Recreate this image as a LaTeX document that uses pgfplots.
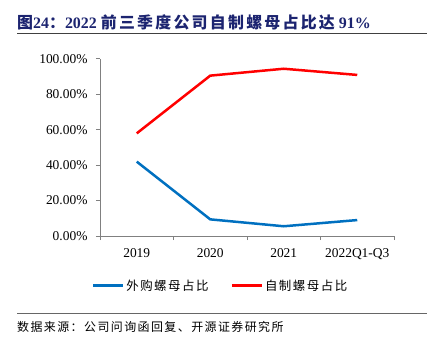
\documentclass[border=0pt]{standalone}
\usepackage{fontspec}
\setmainfont{Liberation Serif}
\newfontfamily\cjk{Noto Sans CJK SC}
\newfontfamily\cjks[LetterSpace=12]{Noto Sans CJK SC}
\newfontfamily\cjkt[LetterSpace=14]{Noto Sans CJK SC}
\usepackage{pgfplots}
\pgfplotsset{compat=1.18}
\definecolor{navy}{RGB}{28,36,112}
\definecolor{lblue}{RGB}{0,112,192}
\definecolor{axgray}{RGB}{128,128,128}
\begin{document}
\begin{tikzpicture}[x=1bp,y=1bp]
\useasboundingbox (0,0) rectangle (432,340);
% title
\node[anchor=west,text=navy,font=\fontsize{16}{17}\selectfont\bfseries,inner sep=0] at (17,318)
 {{\cjkt\bfseries 图}24{\cjkt\bfseries ：}2022 {\cjkt\bfseries 前三季度公司自制螺母占比达} 91\%};
\draw[black!75,line width=0.8bp] (17,306.5) -- (427,306.5);
% axis
\begin{axis}[
  at={(100bp,104bp)}, anchor=south west,
  scale only axis, width=294bp, height=177bp,
  xmin=-0.5, xmax=3.5, ymin=0, ymax=100,
  axis x line*=bottom, axis y line*=left,
  axis line style={-,draw=axgray,line width=1bp},
  xtick={0,1,2,3},
  xticklabels={2019,2020,2021,2022Q1-Q3},
  minor xtick={-0.5,0.5,1.5,2.5,3.5},
  ytick={0,20,40,60,80,100},
  tick align=outside,
  major x tick style={draw=none},
  minor x tick style={draw=axgray,line width=1bp},
  major y tick style={draw=axgray,line width=1bp},
  major tick length=4bp, minor tick length=4bp,
  tick label style={font=\fontsize{13.5}{14}\selectfont},
  /pgf/number format/assume math mode=true,
  yticklabel={\pgfmathprintnumber[fixed,fixed zerofill,precision=2]{\tick}\%},
  xticklabel style={yshift=-5bp},
  yticklabel style={xshift=-5bp},
  legend columns=2,
  legend style={draw=none, fill=none, at={(0.41,-0.28)}, anchor=center,
    font=\fontsize{12.5}{13}\selectfont\cjks,
    /tikz/every even column/.append style={column sep=20bp}},
  legend image code/.code={\draw[#1,line width=2.5bp] (0,0) -- (30bp,0);},
]
\addplot[lblue, line width=2.5bp] coordinates {(0,42) (1,9.4) (2,5.5) (3,9)};
\addlegendentry{外购螺母占比}
\addplot[red, line width=2.5bp] coordinates {(0,58) (1,90.6) (2,94.5) (3,91)};
\addlegendentry{自制螺母占比}
\end{axis}
\draw[black!60,line width=0.8bp] (17,27) -- (427,27);
\node[anchor=west,inner sep=0,font=\fontsize{12}{13}\selectfont\cjks] at (17,13) {数据来源：公司问询函回复、开源证券研究所};
\end{tikzpicture}
\end{document}
